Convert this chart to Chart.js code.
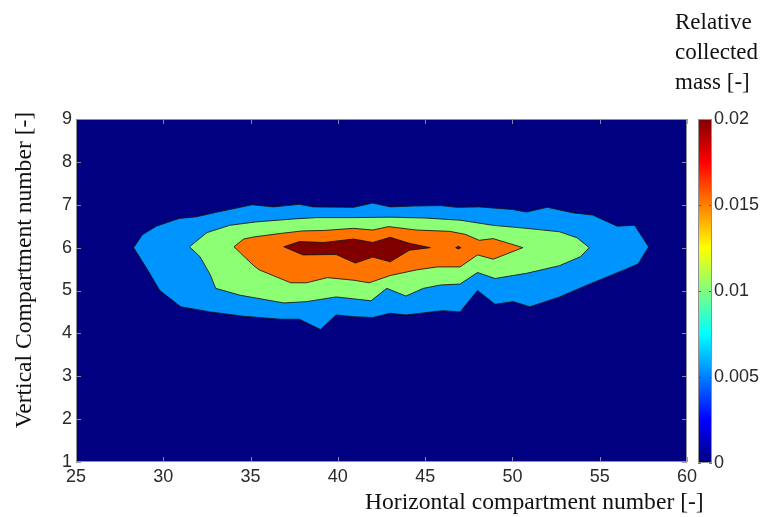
<!DOCTYPE html>
<html>
<head>
<meta charset="utf-8">
<script src="https://cdn.jsdelivr.net/npm/chart.js@4.4.0/dist/chart.umd.min.js"></script>
<style>
  body { margin: 0; background: #fff; }
  #wrap { position: relative; width: 763px; height: 517px; overflow: hidden; }
  canvas { position: absolute; }
  .title { position: absolute; font-family: 'Liberation Serif', 'Times New Roman', serif; font-size: 23.6px; line-height: 30px; color: #111; white-space: nowrap; }
</style>
</head>
<body>
<div id="wrap">
  <canvas id="main" width="763" height="517" style="left:0;top:0"></canvas>
  <canvas id="bar" width="73" height="380" style="left:690px;top:100px"></canvas>
  <div class="title" style="left:365px;top:486px">Horizontal compartment number [-]</div>
  <div class="title" style="left:-177px;top:255px;width:400px;text-align:center;transform:rotate(-90deg)">Vertical Compartment number [-]</div>
  <div class="title" style="left:675px;top:7px;font-size:23px">Relative<br>collected<br>mass [-]</div>
</div>
<script>
'use strict';

// axis ticks
const xTicks = [25, 30, 35, 40, 45, 50, 55, 60];
const yTicks = [1, 2, 3, 4, 5, 6, 7, 8, 9];
const cbTicks = [0, 0.005, 0.01, 0.015, 0.02];

// contour outlines [x, y]
// level 0.005
const blueZone = [
  [28.3, 6.0], [28.8, 6.3], [29.6, 6.5], [30.9, 6.68], [31.9, 6.72], [33.1, 6.83], [35.1, 7.0],
  [36.3, 6.95], [37.8, 7.01], [38.6, 6.95], [40.9, 6.94], [42.0, 7.04], [43.0, 6.95], [44.3, 6.97],
  [45.9, 6.98], [46.8, 6.94], [48.1, 6.95], [50.0, 6.89], [50.8, 6.83], [52.0, 6.94], [53.5, 6.81],
  [54.6, 6.76], [56.0, 6.5], [57.0, 6.52], [57.8, 6.02], [57.2, 5.62], [56.4, 5.48], [54.3, 5.13],
  [52.7, 4.85], [51.0, 4.62], [50.05, 4.74], [49.0, 4.68], [48.0, 5.0], [47.0, 4.5], [46.0, 4.53],
  [43.9, 4.43], [43.0, 4.47], [42.0, 4.37], [40.9, 4.39], [39.9, 4.43], [39.0, 4.09], [37.8, 4.33],
  [36.7, 4.33], [34.6, 4.40], [32.7, 4.50], [31.0, 4.62], [29.8, 5.0], [29.0, 5.55], [28.3, 6.0]
];
// level 0.01
const greenZone = [
  [31.5, 6.02], [32.5, 6.35], [33.8, 6.52], [35.3, 6.6], [37.5, 6.67], [38.8, 6.70], [40.9, 6.70],
  [43.0, 6.71], [45.0, 6.69], [47.0, 6.64], [48.9, 6.52], [50.8, 6.45], [52.7, 6.37], [53.7, 6.23],
  [54.4, 6.0], [53.9, 5.79], [52.7, 5.58], [50.8, 5.40], [49.0, 5.28], [48.0, 5.42], [47.0, 5.15],
  [45.9, 5.13], [44.9, 5.05], [43.9, 4.87], [42.8, 5.05], [41.9, 4.76], [39.9, 4.85], [38.2, 4.74],
  [36.9, 4.71], [34.4, 4.89], [33.0, 5.05], [32.7, 5.36], [32.1, 5.79], [31.5, 6.02]
];
// level 0.015
const orangeZone = [
  [34.05, 6.02], [34.6, 6.2], [35.2, 6.25], [36.7, 6.33], [38.0, 6.39], [39.2, 6.4], [40.9, 6.45],
  [42.0, 6.41], [42.9, 6.49], [44.5, 6.41], [46.4, 6.38], [47.3, 6.31], [48.1, 6.17], [48.9, 6.21],
  [50.6, 6.0], [48.9, 5.73], [48.0, 5.83], [47.0, 5.55], [45.7, 5.55], [44.5, 5.48], [43.0, 5.35],
  [41.8, 5.18], [40.9, 5.24], [39.4, 5.3], [38.2, 5.18], [37.3, 5.18], [35.5, 5.48], [35.15, 5.59],
  [34.05, 6.02]
];
// level 0.02
const redZone = [
  [36.9, 6.02], [37.8, 6.14], [39.2, 6.12], [40.9, 6.2], [42.0, 6.12], [43.0, 6.24], [44.1, 6.1],
  [45.3, 6.0], [44.1, 5.94], [43.0, 5.67], [42.0, 5.78], [41.0, 5.64], [39.9, 5.84], [38.0, 5.83],
  [36.9, 6.02]
];
const redSpot = [[46.75, 6.0], [46.9, 6.03], [47.05, 6.0], [46.9, 5.97], [46.75, 6.0]];

const jetStops = [
  [0, '#000080'], [0.125, '#0000ff'], [0.375, '#00ffff'],
  [0.625, '#ffff00'], [0.875, '#ff0000'], [1, '#800000']
];

const tickFont = { family: "'Liberation Sans', Arial, sans-serif", size: 18 };

function zone(points, color, order) {
  return {
    data: points.map(p => ({ x: p[0], y: p[1] })),
    showLine: true,
    fill: 'shape',
    backgroundColor: color,
    borderColor: 'rgba(20,20,20,0.85)',
    borderWidth: 1,
    pointRadius: 0,
    tension: 0,
    order: order
  };
}

const plotFrame = {
  id: 'plotFrame',
  beforeDatasetsDraw(chart) {
    const { ctx, chartArea: a } = chart;
    ctx.save();
    ctx.fillStyle = '#000080';
    ctx.fillRect(a.left, a.top, a.width, a.height);
    ctx.restore();
  },
  afterDatasetsDraw(chart) {
    const { ctx, chartArea: a, scales } = chart;
    ctx.save();
    ctx.strokeStyle = 'rgba(150,150,170,0.9)';
    ctx.lineWidth = 1;
    ctx.beginPath();
    scales.x.ticks.forEach(t => {
      const px = Math.round(scales.x.getPixelForValue(t.value)) + 0.5;
      ctx.moveTo(px, a.top); ctx.lineTo(px, a.top + 5);
      ctx.moveTo(px, a.bottom); ctx.lineTo(px, a.bottom - 5);
    });
    scales.y.ticks.forEach(t => {
      const py = Math.round(scales.y.getPixelForValue(t.value)) + 0.5;
      ctx.moveTo(a.left, py); ctx.lineTo(a.left + 5, py);
      ctx.moveTo(a.right, py); ctx.lineTo(a.right - 5, py);
    });
    ctx.stroke();
    ctx.strokeStyle = '#909090';
    ctx.strokeRect(a.left + 0.5, a.top + 0.5, a.width - 1, a.height - 1);
    ctx.restore();
  }
};

new Chart(document.getElementById('main'), {
  type: 'scatter',
  data: {
    datasets: [
      zone(redSpot, '#800000', 1),
      zone(redZone, '#800000', 2),
      zone(orangeZone, '#ff7400', 3),
      zone(greenZone, '#8cff74', 4),
      zone(blueZone, '#0094ff', 5)
    ]
  },
  options: {
    responsive: false,
    animation: false,
    devicePixelRatio: 1,
    layout: { padding: { left: 0, top: 119, right: 76, bottom: 0 } },
    plugins: { legend: { display: false }, tooltip: { enabled: false } },
    scales: {
      x: {
        type: 'linear', min: xTicks[0], max: xTicks[xTicks.length - 1],
        afterBuildTicks(s) { s.ticks = xTicks.map(v => ({ value: v })); },
        ticks: { font: tickFont, color: '#2a2a2a', padding: 4, maxRotation: 0, autoSkip: false },
        grid: { display: false, drawTicks: false },
        border: { display: false },
        afterFit(s) { s.height = 55; }
      },
      y: {
        type: 'linear', min: yTicks[0], max: yTicks[yTicks.length - 1],
        afterBuildTicks(s) { s.ticks = yTicks.map(v => ({ value: v })); },
        ticks: { font: tickFont, color: '#2a2a2a', padding: 4, autoSkip: false },
        grid: { display: false, drawTicks: false },
        border: { display: false },
        afterFit(s) { s.width = 76; }
      }
    }
  },
  plugins: [plotFrame]
});

const barFrame = {
  id: 'barFrame',
  afterDatasetsDraw(chart) {
    const { ctx, chartArea: a, scales } = chart;
    ctx.save();
    ctx.strokeStyle = 'rgba(60,60,60,0.7)';
    ctx.lineWidth = 1;
    ctx.beginPath();
    scales.y.ticks.forEach(t => {
      const py = Math.round(scales.y.getPixelForValue(t.value)) + 0.5;
      ctx.moveTo(a.left, py); ctx.lineTo(a.left + 3, py);
      ctx.moveTo(a.right, py); ctx.lineTo(a.right - 3, py);
    });
    ctx.stroke();
    ctx.strokeStyle = '#909090';
    ctx.strokeRect(a.left + 0.5, a.top + 0.5, a.width - 1, a.height - 1);
    ctx.restore();
  }
};

new Chart(document.getElementById('bar'), {
  type: 'bar',
  data: {
    labels: ['mass'],
    datasets: [{
      data: [[cbTicks[0], cbTicks[cbTicks.length - 1]]],
      backgroundColor(c) {
        const area = c.chart.chartArea;
        if (!area) return '#000080';
        const g = c.chart.ctx.createLinearGradient(0, area.bottom, 0, area.top);
        jetStops.forEach(s => g.addColorStop(s[0], s[1]));
        return g;
      },
      borderWidth: 0,
      barPercentage: 1,
      categoryPercentage: 1
    }]
  },
  options: {
    responsive: false,
    animation: false,
    devicePixelRatio: 1,
    layout: { padding: { left: 8, top: 19, right: 0, bottom: 17 } },
    plugins: { legend: { display: false }, tooltip: { enabled: false } },
    scales: {
      x: { display: false },
      y: {
        position: 'right', min: cbTicks[0], max: cbTicks[cbTicks.length - 1],
        afterBuildTicks(s) { s.ticks = cbTicks.map(v => ({ value: v })); },
        ticks: { font: tickFont, color: '#2a2a2a', padding: 2, autoSkip: false, callback: v => String(v) },
        grid: { display: false, drawTicks: false },
        border: { display: false },
        afterFit(s) { s.width = 51; }
      }
    }
  },
  plugins: [barFrame]
});
</script>
</body>
</html>
